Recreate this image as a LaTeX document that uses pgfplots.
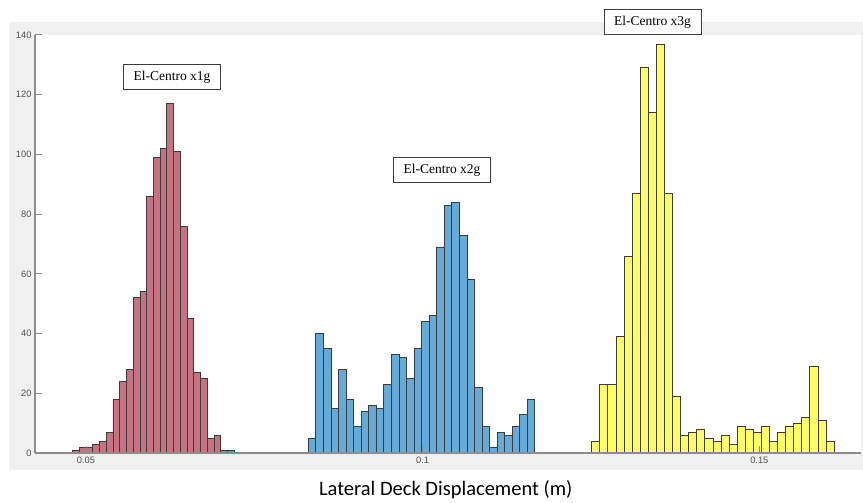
\documentclass[border=0pt]{standalone}
\usepackage{pgfplots}
\pgfplotsset{compat=1.18}
\usepackage{fontspec}
\setmainfont{Liberation Sans}
\newfontfamily\serifx{Liberation Serif}
\newfontfamily\calib{Carlito}
\definecolor{figbg}{RGB}{240,240,240}
\definecolor{redbar}{RGB}{199,114,130}
\definecolor{bluebar}{RGB}{102,170,215}
\definecolor{yelbar}{RGB}{255,255,102}
\definecolor{edgec}{RGB}{60,60,60}
\definecolor{axc}{RGB}{140,140,140}
\definecolor{tickc}{RGB}{80,80,80}
\begin{document}
\begin{tikzpicture}[x=1pt,y=1pt]
\useasboundingbox (0,0) rectangle (863,503);
\fill[white] (0,0) rectangle (863,503);
\fill[figbg] (9,33) rectangle (863,481);
\begin{axis}[
  at={(35pt,50pt)}, anchor=south west,
  scale only axis, width=826pt, height=418pt,
  xmin=0.042425, xmax=0.16510, ymin=0, ymax=140,
  axis background/.style={fill=white},
  axis x line*=bottom, axis y line*=left,
  axis line style={draw=axc, line width=1.3pt, -},
  xtick={0.05,0.1,0.15}, xticklabels={0.05,0.1,0.15},
  ytick={0,20,...,140},
  tick align=inside, major tick length=7pt,
  tick style={draw=axc, line width=1pt},
  ticklabel style={font=\fontsize{9.3}{10}\selectfont, text=tickc},
  /pgf/number format/assume math mode=true,
  axis on top, clip=false,
  xlabel={\calib\fontsize{20.5}{22}\selectfont Lateral Deck Displacement (m)},
  xlabel style={at={(axis description cs:0.4973,-0.0885)}, anchor=center},
]
\addplot[ybar interval, fill=redbar, draw=edgec, line width=0.7pt] coordinates {
(0.048,1)(0.049,2)(0.050,2)(0.051,3)(0.052,4)(0.053,7)(0.054,18)(0.055,24)
(0.056,28)(0.057,52)(0.058,54)(0.059,86)(0.060,99)(0.061,102)(0.062,117)(0.063,101)
(0.064,76)(0.065,45)(0.066,27)(0.067,25)(0.068,5)(0.069,6)(0.070,1)(0.071,1)(0.072,1)};
\addplot[ybar interval, fill=bluebar, draw=edgec, line width=0.7pt] coordinates {
(0.083000,5)(0.084122,40)(0.085244,35)(0.086366,15)(0.087488,28)(0.088610,18)
(0.089732,9)(0.090854,14)(0.091976,16)(0.093098,15)(0.094220,23)(0.095342,33)
(0.096464,32)(0.097586,25)(0.098708,35)(0.099830,44)(0.100952,46)(0.102074,69)
(0.103196,83)(0.104318,84)(0.105440,73)(0.106562,58)(0.107684,22)(0.108806,9)
(0.109928,2)(0.111050,7)(0.112172,6)(0.113294,9)(0.114416,13)(0.115538,18)(0.116660,18)};
\addplot[ybar interval, fill=yelbar, draw=edgec, line width=0.7pt] coordinates {
(0.1251,4)(0.1263,23)(0.1275,23)(0.1287,39)(0.1299,66)(0.1311,87)(0.1323,129)
(0.1335,114)(0.1347,137)(0.1359,87)(0.1371,19)(0.1383,6)(0.1395,7)(0.1407,8)
(0.1419,5)(0.1431,4)(0.1443,6)(0.1455,3)(0.1467,9)(0.1479,8)(0.1491,7)(0.1503,9)
(0.1515,4)(0.1527,7)(0.1539,9)(0.1551,10)(0.1563,12)(0.1575,29)(0.1587,11)(0.1599,4)(0.1611,4)};
\tikzset{ann/.style={draw=edgec, line width=0.8pt, fill=white, minimum width=97pt, minimum height=25pt, inner sep=2pt, font=\serifx\fontsize{13.5}{15}\selectfont}}
\node[ann] at (axis cs:0.06277,125.8) {El-Centro x1g};
\node[ann] at (axis cs:0.10287,94.8) {El-Centro x2g};
\node[ann] at (axis cs:0.13414,144.3) {El-Centro x3g};
\end{axis}
\end{tikzpicture}
\end{document}
